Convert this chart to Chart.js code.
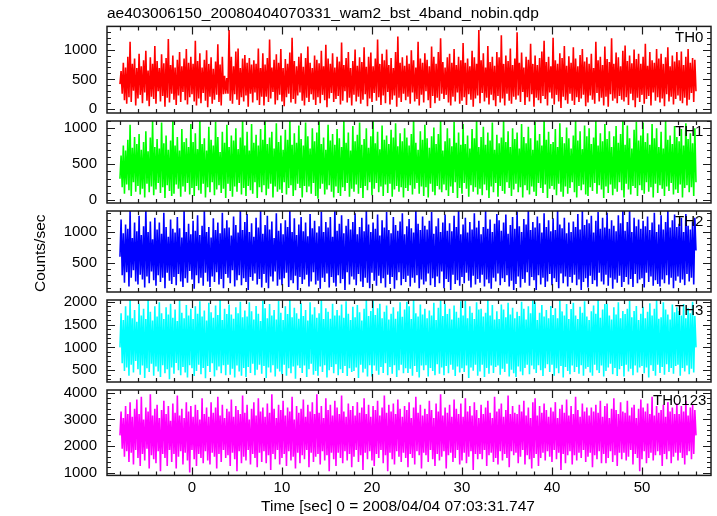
<!DOCTYPE html>
<html><head><meta charset="utf-8">
<script src="https://cdn.jsdelivr.net/npm/chart.js@4.4.1/dist/chart.umd.min.js"></script>
<style>
html,body{margin:0;padding:0;background:#fff;width:717px;height:516px;overflow:hidden;position:relative}
.box{position:absolute;left:0;width:717px}
</style></head><body>
<div class="box" id="b0"><canvas id="c0"></canvas></div>
<div class="box" id="b1"><canvas id="c1"></canvas></div>
<div class="box" id="b2"><canvas id="c2"></canvas></div>
<div class="box" id="b3"><canvas id="c3"></canvas></div>
<div class="box" id="b4"><canvas id="c4"></canvas></div>
<script>
const TITLE = "ae403006150_20080404070331_wam2_bst_4band_nobin.qdp";
const X_TITLE = "Time [sec] 0 = 2008/04/04 07:03:31.747";
const Y_TITLE = "Counts/sec";
const BAND_NAMES = ["TH0", "TH1", "TH2", "TH3", "TH0123"];
const T_START = -8, T_STEP = 0.125;
const X_MIN = -9.44, X_MAX = 57.67;
const X_TICKS = [0, 10, 20, 30, 40, 50];

const th0 = [
420,640,260,780,150,700,90,880,200,1130,120,760,310,850,60,690,
180,930,240,720,100,820,280,980,140,650,50,870,210,760,170,1060,
90,810,300,690,130,920,220,770,40,860,190,1180,110,740,260,900,
160,700,70,830,230,960,120,720,290,850,150,1010,80,780,200,880,
250,760,130,1150,60,810,180,940,100,700,270,830,140,990,30,760,
210,870,90,680,160,800,240,1090,120,750,60,880,250,560,260,520,
260,1330,140,880,90,720,250,970,160,1020,70,690,200,850,130,910,
230,780,40,860,260,750,110,820,280,760,150,1020,70,690,210,940,
60,750,210,860,120,1170,180,700,290,830,80,920,150,780,240,1010,
130,690,50,840,200,760,260,950,110,1200,170,810,90,720,230,880,
280,940,140,710,60,860,190,1050,120,780,250,690,160,900,70,830,
200,770,100,980,240,720,150,1080,30,850,180,760,270,940,120,700,
170,880,220,800,80,1120,140,740,300,860,110,960,190,690,60,810,
240,1000,130,730,210,870,90,790,160,1040,250,710,50,880,180,950,
120,720,270,850,140,1170,200,760,70,930,230,820,100,1000,290,740,
80,860,160,690,230,960,40,1220,190,780,120,870,260,730,150,900,
210,760,90,990,280,820,130,700,170,1130,60,850,240,780,110,940,
300,830,150,720,20,1050,220,880,100,760,190,960,140,1190,260,790,
170,700,240,870,110,930,60,780,210,1010,130,740,280,880,90,820,
140,1110,200,780,70,850,250,720,160,980,40,870,180,760,230,1330,
100,820,270,940,130,700,190,1060,80,790,240,880,150,730,50,960,
220,870,110,1240,180,760,60,900,260,810,140,1020,90,740,210,850,
160,1290,230,780,120,950,290,700,70,880,200,830,130,1100,250,760,
40,900,190,740,150,860,100,970,220,1150,170,790,60,880,280,720,
180,1200,80,820,240,760,130,940,20,860,210,1060,150,730,90,890,
260,780,140,1040,70,850,200,720,120,910,180,1010,240,800,50,870,
110,760,230,930,160,690,90,1130,270,820,130,880,190,740,60,1050,
210,840,40,790,250,1190,140,760,180,950,100,870,220,720,160,980,
130,1070,200,810,70,900,260,770,150,1000,30,840,190,930,120,760,
240,880,90,1100,170,730,220,960,60,820,280,780,140,1010,200,850,
110,930,180,760,50,870,250,1040,130,720,210,900,80,800,170,960,
230,820,140,970,100,740,190,880,60,1010,160,780,270,860,120,830,
300];

const th1 = [
300,620,180,760,90,690,220,840,140,1050,60,730,250,880,120,780,
200,920,80,700,160,810,40,960,230,680,110,870,190,1100,70,740,
150,850,240,720,100,1080,180,790,30,900,210,700,130,830,60,1120,
90,760,220,880,160,690,50,990,190,810,120,860,240,740,80,1060,
170,810,60,930,200,710,140,1140,90,780,230,860,40,690,180,1020,
110,840,250,760,70,1090,150,880,210,670,100,950,160,800,30,1050,
230,740,130,900,50,830,190,1000,120,710,240,870,80,1130,170,760,
60,950,200,690,140,1060,90,800,250,910,30,760,180,990,110,840,
210,1110,70,780,160,870,230,950,40,720,190,1070,120,810,150,900,
100,700,250,980,80,840,170,1120,210,770,60,930,140,800,230,1040,
170,850,40,760,200,1080,110,890,190,720,90,1000,240,820,60,940,
20,1100,160,780,230,870,80,700,150,1050,210,830,120,920,40,770,
190,990,100,860,60,740,180,1110,130,800,240,940,50,690,160,1030,
120,820,220,910,90,1080,170,770,30,850,200,1000,140,730,250,890,
70,1130,160,790,240,950,110,710,190,1040,60,840,220,900,100,780,
230,980,50,870,150,1070,200,750,120,930,180,820,40,1000,170,870,
130,760,210,920,80,1140,160,800,240,700,90,960,190,840,60,1050,
180,860,40,730,230,890,120,1010,70,780,200,920,150,1100,110,690,
220,820,140,1000,60,860,190,750,100,1090,250,800,30,940,170,770,
90,1060,240,780,160,900,50,720,210,990,120,860,180,1130,80,740,
160,880,70,1020,220,770,140,940,30,830,190,1080,110,700,240,910,
50,790,200,870,130,1110,90,810,250,960,170,740,60,1000,150,850,
230,940,110,720,180,1060,40,880,210,790,140,1020,80,860,190,700,
120,1090,60,830,240,920,170,760,100,1130,220,840,30,950,160,780,
200,810,150,990,70,740,230,1070,120,880,50,790,190,1010,90,860,
170,720,250,900,110,1120,40,830,200,960,140,710,220,1040,80,890,
60,1000,180,780,130,870,240,1100,90,760,210,930,150,820,30,1060,
190,850,100,960,220,740,70,890,160,1030,120,800,250,920,140,1110,
40,770,230,1040,150,860,80,720,200,980,170,1090,60,830,210,900,
140,1080,90,810,250,930,120,770,180,1060,40,860,230,1000,100,740,
210,950,160,720,60,1100,190,840,130,900,240,780,80,1030,150,880,
100,820,220,990,40,760,170,1070,210,850,110,930,180,790,60,1000,
250];

const th2 = [
600,1200,300,980,180,1120,350,1050,120,1340,260,900,380,1150,200,1010,
150,1260,310,950,230,1090,100,1390,280,1000,170,1170,360,880,220,1230,
130,1040,300,1150,190,970,260,1310,90,1080,340,920,210,1200,160,1050,
270,990,140,1240,320,1060,200,910,110,1350,250,1000,180,1130,370,960,
230,1180,80,1020,300,1270,170,950,260,1100,130,1360,340,1000,200,1080,
110,910,280,1220,190,1030,350,1150,150,980,240,1310,90,1060,320,1190,
260,1070,170,940,380,1250,120,1110,220,990,300,1380,140,1030,250,1160,
190,1290,60,1000,270,1140,210,920,330,1230,150,1070,240,1340,100,970,
320,1110,180,1260,90,1040,280,1170,200,900,360,1300,130,1020,230,1140,
140,960,250,1190,340,1080,110,1350,220,1000,170,1220,290,950,60,1120,
270,1240,160,1010,230,1150,310,930,120,1290,200,1060,350,1180,150,990,
210,1090,80,1330,260,1000,190,1160,330,1070,100,1240,270,920,180,1380,
120,1020,300,1130,170,1270,240,980,60,1100,350,1210,150,1040,280,1160,
230,1300,140,960,320,1080,200,1230,110,1010,260,1350,180,1120,90,1000,
340,1150,210,1050,130,1280,290,940,170,1190,250,1070,100,1320,310,1030,
160,980,270,1240,80,1110,220,1020,350,1170,140,1300,240,960,190,1090,
290,1210,120,1060,260,990,180,1360,300,1130,90,1030,230,1250,150,1100,
200,1040,330,1180,140,1320,250,970,110,1090,280,1220,170,1000,360,1150,
90,1280,240,1020,190,1140,60,1010,310,1260,160,1080,220,1370,130,960,
270,1120,170,1230,340,990,210,1160,100,1040,290,1300,150,1070,240,1180,
180,960,310,1080,120,1340,230,1050,170,1200,80,1000,260,1130,200,1290,
330,1190,140,1020,250,1150,190,1280,300,970,120,1110,210,1240,60,1050,
160,1330,280,1090,100,1000,240,1210,180,1120,350,1380,130,1030,270,1160,
220,1070,60,1250,300,1140,150,990,260,1300,110,1080,200,1190,320,1010,
140,1220,250,1030,190,1350,90,1120,330,1060,170,1230,280,980,120,1150,
270,1000,180,1170,310,1080,140,1290,230,1040,60,1340,190,1110,250,1200,
100,1140,290,1260,160,990,220,1180,120,1320,340,1050,200,1230,150,1070,
310,1310,130,1050,260,1190,80,1100,230,1010,180,1270,290,1140,110,1360,
190,1020,270,1160,150,1380,240,1000,110,1230,320,1090,170,1200,230,1050,
250,1180,100,1090,340,1250,190,1030,280,1150,130,1310,220,1000,160,1120,
120,1270,230,1040,170,1160,300,1350,150,1070,260,1190,90,1280,210,1080,
280,1130,180,1230,230,1000,140,1290,320,1100,200,1040,260,1170,150,1230,
700];

const th3 = [
1000,1750,650,1600,480,1900,560,1700,380,2050,620,1640,450,1820,700,1560,
520,1960,400,1700,600,1850,330,1620,540,2040,460,1780,640,1590,380,1900,
580,1680,470,1990,350,1750,610,1620,430,1880,520,1720,300,1960,560,1650,
420,1830,660,1580,500,2030,390,1760,570,1640,450,1930,340,1700,610,1850,
540,1620,370,1900,480,1740,620,2010,410,1680,550,1810,320,1590,590,1980,
460,1770,650,1650,360,1920,500,1710,580,2040,430,1600,610,1850,390,1730,
620,1940,400,1720,530,1630,340,1880,600,1750,470,2000,380,1660,550,1810,
350,1680,570,1990,440,1790,640,1610,390,1910,510,1740,620,1580,420,2030,
590,1860,330,1640,560,1950,450,1700,610,1820,360,1610,530,2020,470,1760,
410,1600,620,1900,380,1730,540,2040,430,1660,580,1870,310,1750,600,1630,
550,1970,440,1690,600,1820,350,1590,520,1990,640,1720,400,1880,480,1650,
380,1750,580,2050,460,1620,610,1860,340,1780,500,1630,570,1960,430,1700,
630,1820,390,1700,520,1940,440,1650,590,2010,370,1740,540,1600,460,1890,
480,1660,560,1930,330,1770,620,1590,450,1850,530,2040,360,1690,610,1800,
360,2030,600,1710,490,1860,400,1960,570,1640,440,1780,650,1920,390,1610,
570,1740,420,1880,610,1630,350,1790,500,1990,620,1670,430,1830,540,2000,
440,1900,530,1620,380,2040,590,1750,460,1680,340,1940,600,1720,500,1850,
610,1640,360,1810,550,1700,480,1980,390,1600,630,1870,420,2030,560,1690,
390,1960,590,1730,430,1850,620,1610,510,1920,370,1780,580,1650,450,2010,
540,1700,460,2020,600,1640,330,1900,560,1760,490,1620,620,1990,380,1830,
470,1850,620,1680,350,1760,550,2050,420,1700,600,1930,440,1610,570,1790,
600,1620,400,1940,530,1830,460,1660,640,1980,360,1720,510,1870,430,1640,
350,1780,580,1690,470,2000,390,1850,550,1610,620,1900,410,1750,600,2040,
520,1990,440,1600,610,1760,500,1930,370,1680,540,1820,630,1640,460,1910,
620,1710,380,1860,540,1640,430,2030,590,1790,340,1700,570,1950,480,1620,
410,1840,600,1980,460,1700,570,1620,420,1890,610,1760,380,2010,530,1680,
570,1600,450,1790,380,1920,620,1740,500,2040,440,1650,600,1830,360,1950,
480,1960,560,1700,640,1610,410,1880,550,1720,370,1990,520,1640,590,1800,
360,1730,620,1850,470,2020,530,1660,390,1800,600,1910,450,1600,560,1740,
590,1890,430,1640,560,1780,340,1970,610,1700,480,1850,380,2040,620,1630,
440,1660,570,1990,400,1830,630,1720,460,1610,550,1940,420,1770,590,1880,
620,1800,380,1700,550,1950,470,1640,600,1860,410,1750,530,2000,450,1690,
1000];

const th0123 = [
2400,3300,1900,3050,1600,3500,1800,3200,1400,3650,1750,3100,1300,3400,1850,3750,
1550,3200,1250,3850,1700,3000,1450,3450,1900,3300,1150,3950,1650,3150,1500,3400,
1350,3550,1800,3050,1050,3350,1700,3700,1550,3200,1250,3500,1850,2950,1400,3600,
1700,3250,1150,3900,1600,3150,1800,3400,1300,3050,1750,3650,1450,3300,1000,3500,
1850,3100,1500,3550,1250,3350,1700,3000,1550,3800,1350,3200,1800,3450,1450,3100,
1300,3650,1750,3250,1600,3450,1150,3850,1700,3150,1400,3550,1850,3050,1550,3400,
1650,3300,1250,3750,1750,3100,1500,3500,1050,3350,1800,3200,1350,3900,1600,3250,
1450,3550,1850,3000,1300,3400,1700,3650,1550,3150,1200,3800,1750,3300,1400,3450,
1800,3100,1350,3600,1650,3250,1100,3950,1700,3400,1500,3050,1850,3550,1300,3350,
1550,3700,1700,3150,1250,3450,1800,3300,1450,3850,1600,3000,1150,3500,1750,3250,
1350,3400,1650,3750,1500,3100,1850,3550,1200,3300,1750,3650,1400,3200,1600,3950,
1700,3250,1300,3500,1800,3050,1450,3800,1650,3350,1050,3550,1750,3150,1500,3700,
1250,3450,1750,3200,1550,3900,1350,3300,1800,3100,1450,3600,1700,3350,1200,3500,
1600,3150,1850,3650,1400,3250,1650,3450,1100,3800,1750,3200,1500,3550,1800,3100,
1450,3500,1250,3350,1700,3700,1550,3150,1850,3450,1350,3900,1650,3250,1050,3550,
1750,3300,1500,3600,1300,3200,1800,3750,1600,3400,1400,3100,1750,3500,1550,3350,
1200,3650,1700,3050,1550,3450,1300,3850,1800,3250,1650,3550,1150,3150,1750,3400,
1650,3200,1400,3700,1850,3350,1500,3050,1250,3600,1700,3300,1450,3950,1600,3150,
1800,3450,1150,3250,1650,3550,1750,3100,1400,3750,1550,3400,1850,3200,1300,3600,
1450,3100,1750,3800,1350,3300,1600,3500,1800,3150,1100,3650,1700,3350,1500,3050,
1700,3550,1500,3200,1850,3450,1250,3700,1650,3250,1750,3050,1400,3850,1550,3300,
1300,3400,1800,3600,1450,3100,1700,3350,1550,3900,1200,3200,1800,3500,1650,3250,
1750,3200,1350,3550,1600,3300,1850,3700,1300,3150,1650,3450,1500,3050,1150,3650,
1550,3800,1700,3150,1250,3500,1550,3250,1750,3600,1450,3350,1800,3100,1600,3450,
1400,3300,1850,3650,1500,3050,1750,3400,1100,3550,1700,3250,1350,3750,1650,3150,
1800,3500,1300,3200,1650,3850,1450,3350,1750,3100,1550,3600,1850,3300,1400,3450,
1600,3150,1750,3450,1200,3300,1650,3550,1500,3250,1800,3700,1350,3100,1700,3500,
1350,3600,1550,3050,1800,3400,1400,3800,1650,3350,1250,3200,1750,3650,1500,3300,
1750,3250,1450,3700,1600,3150,1850,3450,1300,3550,1700,3050,1550,3400,1050,3750,
1500,3450,1800,3300,1350,3600,1550,3200,1750,3850,1450,3150,1650,3500,1800,3250,
1650,3350,1250,3550,1700,3100,1500,3650,1800,3300,1350,3450,1600,3200,1750,3600,
1450,3200,1750,3500,1550,3300,1300,3700,1650,3150,1800,3450,1500,3550,1700,3350,
2400];

const Y_TICKS = [[0,500,1000],[0,500,1000],[500,1000],[500,1000,1500,2000],[1000,2000,3000,4000]];
const Y_RANGES = [[-65,1390],[-38,1101],[29,1338],[240,2040],[893,4107]];
const Y_MINOR = [100,100,100,100,200];
const SERIES = [th0, th1, th2, th3, th0123];
const COLORS = ["#ff0000", "#00ff00", "#0000ff", "#00ffff", "#ff00ff"];

// layout (pixels)
const PANEL_TOP = [27, 117, 207, 296, 386];
const PANEL_BOT = [117, 207, 296, 386, 476];
const LABEL_X = [675, 675, 675, 675, 653];
const FONT = "'Liberation Sans', Arial, Helvetica, sans-serif";

const framePlugin = {
  id: 'frame',
  afterDraw(chart, args, opts) {
    const {ctx, chartArea: a} = chart;
    const x = chart.scales.x, y = chart.scales.y;
    ctx.save();
    ctx.strokeStyle = '#1c1c1c';
    ctx.lineWidth = 1.5;
    ctx.strokeRect(a.left, a.top, a.right - a.left, a.bottom - a.top);
    ctx.lineWidth = 1.2;
    ctx.beginPath();
    const ym = opts.yMinor;
    for (let v = Math.ceil(y.min / ym) * ym; v <= y.max; v += ym) {
      const p = Math.round(y.getPixelForValue(v)) + 0.5;
      const L = opts.yTicks.includes(v) ? 8 : 4;
      ctx.moveTo(a.left, p); ctx.lineTo(a.left + L, p);
      ctx.moveTo(a.right, p); ctx.lineTo(a.right - L, p);
    }
    for (let v = Math.ceil(x.min / 2) * 2; v <= x.max; v += 2) {
      const p = Math.round(x.getPixelForValue(v)) + 0.5;
      const L = (v % 10 === 0) ? 8 : 4;
      ctx.moveTo(p, a.top); ctx.lineTo(p, a.top + L);
      ctx.moveTo(p, a.bottom); ctx.lineTo(p, a.bottom - L);
    }
    ctx.stroke();
    ctx.fillStyle = '#000';
    ctx.font = '15px ' + FONT;
    ctx.textBaseline = 'middle';
    ctx.textAlign = 'left';
    ctx.fillText(opts.label, opts.labelX, a.top + 11);
    ctx.restore();
  }
};

function build(i) {
  const first = i === 0, last = i === 4, mid = i === 2;
  let top, height, pad;
  if (first) { top = 0; height = PANEL_BOT[0] + 15; pad = {left: 0, right: 6, top: 0, bottom: 15}; }
  else if (last) { top = PANEL_TOP[4] - 15; height = 516 - top; pad = {left: 63, right: -16, top: 15, bottom: 0}; }
  else { top = PANEL_TOP[i] - 15; height = PANEL_BOT[i] - PANEL_TOP[i] + 30; pad = {left: 0, right: 6, top: 15, bottom: 15}; }
  const box = document.getElementById('b' + i);
  box.style.top = top + 'px';
  box.style.height = height + 'px';
  const yWidth = 107 - pad.left;
  const pts = SERIES[i].map((v, k) => ({x: T_START + k * T_STEP, y: v}));
  const titleOpt = first ? {
      display: true, text: TITLE, align: 'start', fullSize: false, color: '#000',
      font: {family: FONT, size: 15.5, weight: 'normal', lineHeight: 1.2},
      padding: {top: 4.4, bottom: 3.4}
    } : last ? {
      display: true, text: X_TITLE, position: 'bottom', align: 'center', color: '#000',
      font: {family: FONT, size: 15.5, weight: 'normal', lineHeight: 1.2},
      padding: {top: 0, bottom: 0}
    } : {display: false};
  const scales = {
    x: {
      type: 'linear', min: X_MIN, max: X_MAX, display: last,
      grid: {display: false, drawTicks: false}, border: {display: false},
      ticks: {color: '#000', font: {family: FONT, size: 15}, padding: 3, maxRotation: 0, autoSkip: false, callback: v => String(v)},
      afterBuildTicks: s => { s.ticks = X_TICKS.map(v => ({value: v})); },
      afterFit: s => { if (last) s.height = 22; }
    },
    y: {
      type: 'linear', min: Y_RANGES[i][0], max: Y_RANGES[i][1],
      grid: {display: false, drawTicks: false}, border: {display: false},
      ticks: {color: '#000', font: {family: FONT, size: 15}, padding: 10, autoSkip: false, callback: v => String(v)},
      afterBuildTicks: s => { s.ticks = Y_TICKS[i].map(v => ({value: v})); },
      afterFit: s => { s.width = yWidth; },
      title: mid ? {display: true, text: Y_TITLE, align: 'start', color: '#000', font: {family: FONT, size: 15.5, lineHeight: 1.2}, padding: {top: 31, bottom: 0}} : {display: false}
    }
  };
  if (last) {
    scales.yr = {
      type: 'linear', position: 'right', display: true,
      grid: {display: false, drawTicks: false}, border: {display: false},
      ticks: {display: false},
      afterFit: s => { s.width = 22; }
    };
  }
  new Chart(document.getElementById('c' + i), {
    type: 'line',
    data: {datasets: [{data: pts, borderColor: COLORS[i], backgroundColor: COLORS[i], borderWidth: 1.6,
      pointRadius: 0, tension: 0, fill: false}]},
    options: {
      responsive: true, maintainAspectRatio: false, animation: false, devicePixelRatio: 1,
      parsing: false,
      layout: {padding: pad},
      plugins: {
        legend: {display: false}, tooltip: {enabled: false},
        title: titleOpt,
        frame: {yTicks: Y_TICKS[i], yMinor: Y_MINOR[i], label: BAND_NAMES[i], labelX: LABEL_X[i]}
      },
      scales: scales
    },
    plugins: [framePlugin]
  });
}
for (let i = 0; i < 5; i++) build(i);
</script>
</body></html>
